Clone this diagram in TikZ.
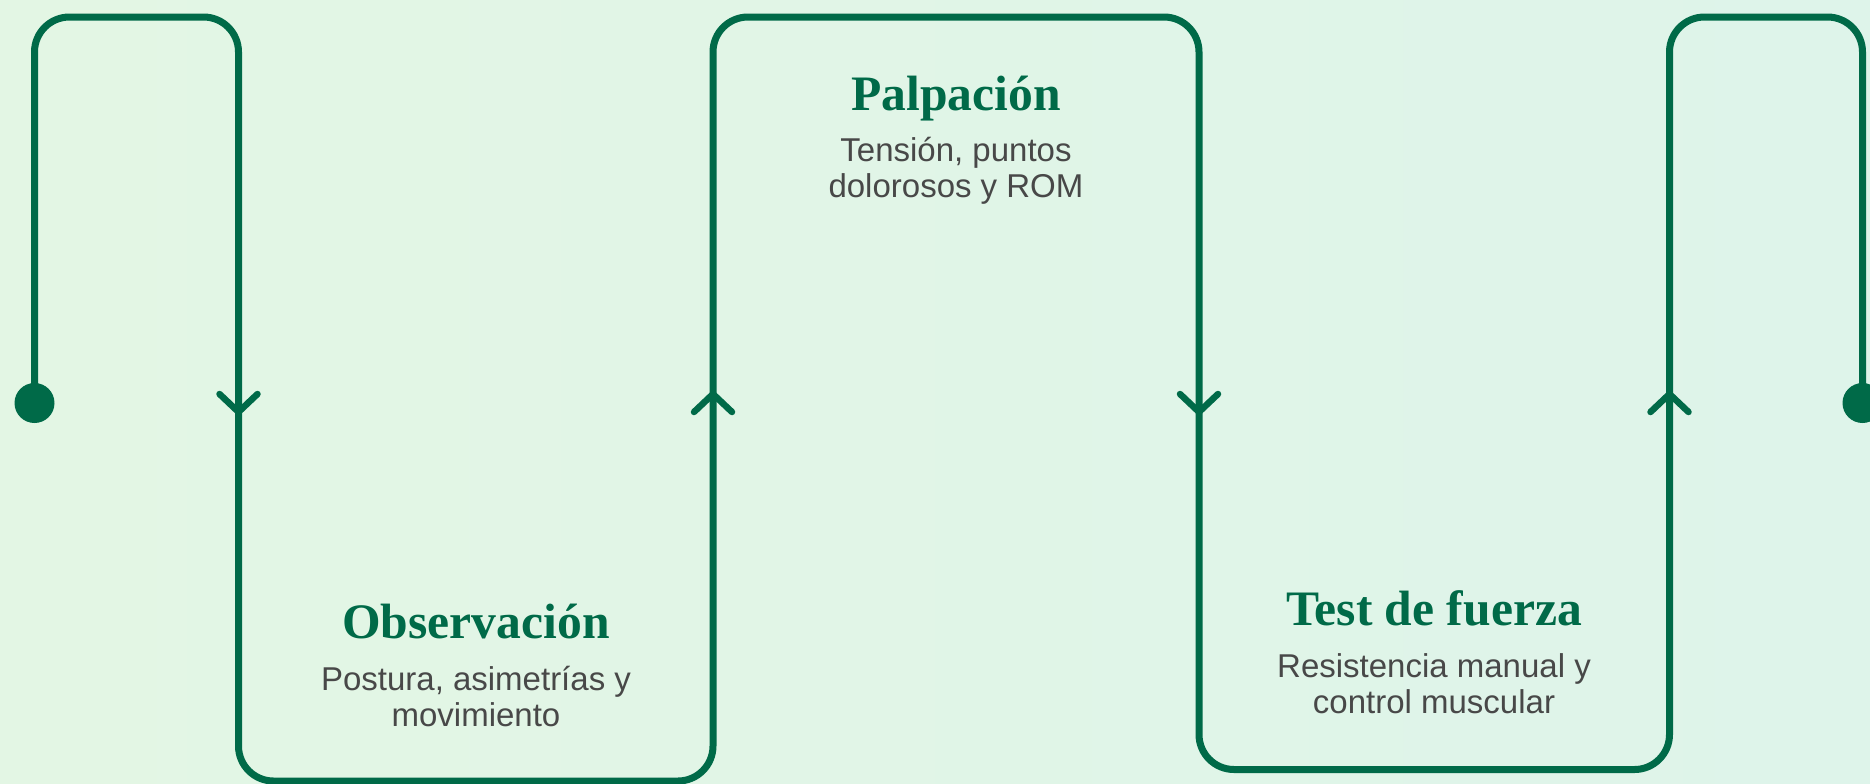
\documentclass[tikz,border=0pt]{standalone}
\usepackage{fontspec}
\setmainfont{Liberation Serif}
\setsansfont{Liberation Sans}
\usepackage{tikz}
\usetikzlibrary{calc, positioning}
\definecolor{lineGreen}{RGB}{0, 106, 72}
\definecolor{textGray}{RGB}{72, 72, 72}
\definecolor{bgLeft}{RGB}{227, 246, 228}
\definecolor{bgRight}{RGB}{222, 244, 234}
\tikzset{
    flow_line/.style={
        line width=3.5pt,
        draw=lineGreen,
        rounded corners=17.5pt
    },
    flow_chevron/.style={
        line width=3.25pt,
        draw=lineGreen,
        line cap=round,
        line join=miter
    },
    flow_dot/.style={
        circle,
        fill=lineGreen,
        inner sep=0pt,
        minimum size=20pt
    },
    step_title/.style={
        anchor=base,
        inner sep=0pt,
        text=lineGreen,
        font=\rmfamily\bfseries\fontsize{24.8}{28}\selectfont
    },
    step_text/.style={
        anchor=base,
        inner sep=0pt,
        align=center,
        text=textGray,
        font=\sffamily\fontsize{16.5}{18}\selectfont
    }
}

\begin{document}
\begin{tikzpicture}[x=0.5pt, y=-0.5pt]
        \useasboundingbox (0,0) rectangle (1870,783);
        \shade[left color=bgLeft, right color=bgRight] (0,0) rectangle (1870,783);

        % start and end of the line
        \node[flow_dot] (start) at (34.5,403) {};
        \node[flow_dot] (finish) at (1862.5,403) {};

        % corners of the line
        \coordinate (c1) at (34.5,17);
        \coordinate (c2) at (238.5,17);
        \coordinate (c3) at (238.5,781);
        \coordinate (c4) at (713,781);
        \coordinate (c5) at (713,17);
        \coordinate (c6) at (1199,17);
        \coordinate (c7) at (1199,769.5);
        \coordinate (c8) at (1669.5,769.5);
        \coordinate (c9) at (1669.5,17);
        \coordinate (c10) at (1862.5,17);

        \draw[flow_line] (start.center) -- (c1) -- (c2) -- (c3) -- (c4) -- (c5) -- (c6)
            -- (c7) -- (c8) -- (c9) -- (c10) -- (finish.center);

        % direction marks
        \coordinate (m1) at (238.5,403);
        \coordinate (m2) at (713,403);
        \coordinate (m3) at (1199,403);
        \coordinate (m4) at (1669.5,403);
        \foreach \m/\d in {m1/1, m2/-1, m3/1, m4/-1}
            \draw[flow_chevron] ($(\m)+(-19,-9*\d)$) -- ($(\m)+(0,9*\d)$) -- ($(\m)+(19,-9*\d)$);

        % steps (text base = last line)
        \node[step_title] (obs) at (476,638) {Observación};
        \node[step_text] (obs_text) at (476,726) {Postura, asimetrías y\\movimiento};

        \node[step_title] (palp) at (956,110) {Palpación};
        \node[step_text] (palp_text) at (956,197) {Tensión, puntos\\dolorosos y ROM};

        \node[step_title] (test) at (1434,625) {Test de fuerza};
        \node[step_text] (test_text) at (1434,713) {Resistencia manual y\\control muscular};
    \end{tikzpicture}
\end{document}
